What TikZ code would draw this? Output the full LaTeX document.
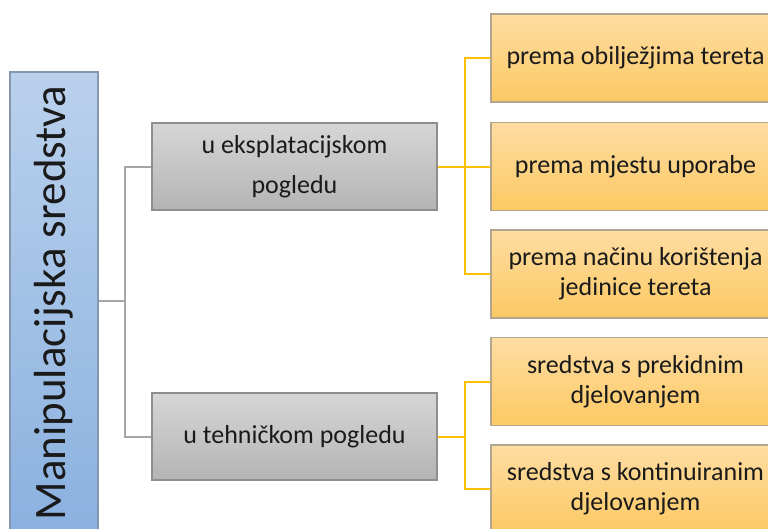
\documentclass[tikz,border=0pt]{standalone}
\usepackage{fontspec}
\setmainfont{Carlito}
\definecolor{bluetop}{HTML}{BAD1EC}
\definecolor{bluebot}{HTML}{8BB1E0}
\definecolor{blueedge}{HTML}{8497AE}
\definecolor{greytop}{HTML}{D6D6D6}
\definecolor{greybot}{HTML}{B4B4B4}
\definecolor{greyedge}{HTML}{8E8E8E}
\definecolor{orangetop}{HTML}{FEDDA2}
\definecolor{orangebot}{HTML}{FCC963}
\definecolor{orangeedge}{HTML}{B0A58F}
\definecolor{greyline}{HTML}{A6A6A6}
\definecolor{goldline}{HTML}{FFC000}
\definecolor{txt}{HTML}{1A1A1A}
\tikzset{
  bluebox/.style={draw=blueedge, line width=1.2pt, top color=bluetop, bottom color=bluebot, minimum width=88, minimum height=458, inner sep=0},
  greybox/.style={draw=greyedge, line width=1.2pt, top color=greytop, bottom color=greybot, minimum width=285, minimum height=87, inner sep=0, align=center, text=txt},
  orangebox/.style={draw=orangeedge, line width=1.2pt, top color=orangetop, bottom color=orangebot, minimum width=289, minimum height=88, inner sep=0, align=center, text=txt},
  greyconn/.style={draw=greyline, line width=2pt},
  goldconn/.style={draw=goldline, line width=2pt},
}
\begin{document}
\begin{tikzpicture}[x=1pt,y=-1pt]
\useasboundingbox (0,0) rectangle (768,528);
\clip (0,0) rectangle (768,528);
\fill[white] (0,0) rectangle (768,528);

\node[bluebox] (root) at (54,301) {};
\node[rotate=90, text=txt, font=\fontsize{45}{54}\selectfont] (roottext) at (54,303) {Manipulacijska sredstva};

\node[greybox, font=\fontsize{26}{40}\selectfont] (g1) at (294.5,166.5) {u eksplatacijskom\\pogledu};
\node[greybox, font=\fontsize{26}{31}\selectfont] (g2) at (294.5,436.5) {u tehničkom pogledu};

\node[orangebox, font=\fontsize{26}{31}\selectfont] (oA) at (635.5,58) {prema obilježjima tereta};
\node[orangebox, font=\fontsize{26}{31}\selectfont] (oB) at (635.5,166.5) {prema mjestu uporabe};
\node[orangebox, font=\fontsize{26}{30}\selectfont] (oC) at (635.5,274) {prema načinu korištenja\\jedinice tereta};
\node[orangebox, font=\fontsize{26}{30}\selectfont] (oD) at (635.5,381.5) {sredstva s prekidnim\\djelovanjem};
\node[orangebox, font=\fontsize{26}{30}\selectfont] (oE) at (635.5,489) {sredstva s kontinuiranim\\djelovanjem};

\coordinate (gj) at (125,301);
\coordinate (oj1) at (465,166.5);
\coordinate (oj2) at (465,436.5);

\draw[greyconn] (root.east) -- (gj);
\draw[greyconn] (g1.west) -| (gj) |- (g2.west);

\draw[goldconn] (g1.east) -- (oj1);
\draw[goldconn] (oA.west) -| (oj1) |- (oC.west);
\draw[goldconn] (oj1) -- (oB.west);

\draw[goldconn] (g2.east) -- (oj2);
\draw[goldconn] (oD.west) -| (oj2) |- (oE.west);
\end{tikzpicture}
\end{document}
